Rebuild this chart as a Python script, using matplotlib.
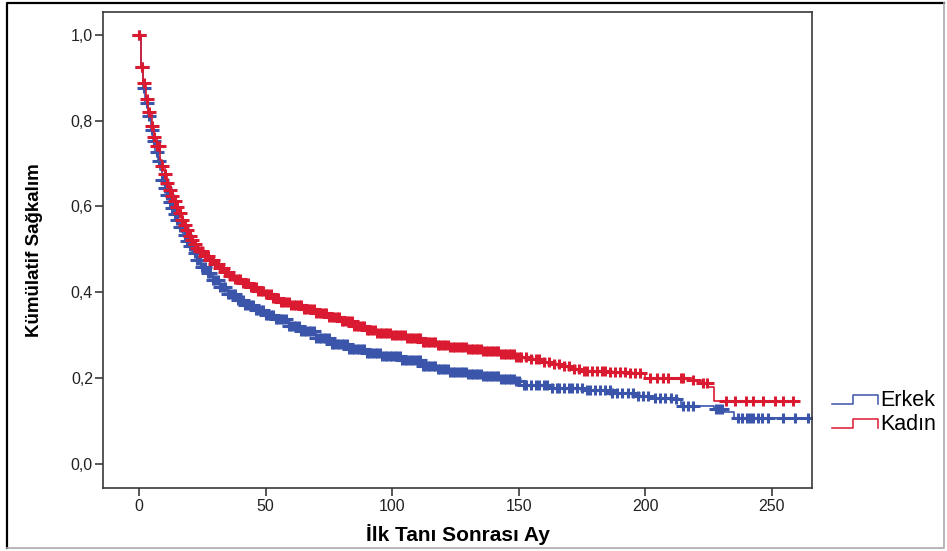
import matplotlib
matplotlib.use('Agg')
import matplotlib.pyplot as plt
import numpy as np
from matplotlib.lines import Line2D
from matplotlib.path import Path
from matplotlib.legend_handler import HandlerBase

plt.rcParams['font.family'] = ['Liberation Sans', 'DejaVu Sans']

# Kaplan-Meier step curves (month, cumulative survival)
erkek_time = [0, 0.7, 1.6, 2.3, 3.3, 4.5, 5.5, 6.3, 7.3, 8.2, 9, 10, 11, 12, 13,
              14, 15, 16, 17.4, 18.7, 20, 21.3, 22.7, 24.6, 26.6, 29, 32, 35,
              38.5, 42, 46, 50, 54, 59, 64, 70, 76, 83, 90, 96, 104, 112, 118,
              123, 130, 136, 143, 149, 152, 163, 177, 187, 196, 204, 211, 214,
              227, 231, 235, 265]
erkek_surv = [1.0, 0.926, 0.876, 0.841, 0.810, 0.779, 0.752, 0.728, 0.705,
              0.684, 0.662, 0.643, 0.627, 0.611, 0.596, 0.582, 0.569, 0.552,
              0.534, 0.520, 0.507, 0.491, 0.476, 0.460, 0.445, 0.429, 0.413,
              0.397, 0.383, 0.371, 0.359, 0.347, 0.337, 0.322, 0.309, 0.293,
              0.280, 0.268, 0.259, 0.251, 0.242, 0.228, 0.221, 0.215, 0.210,
              0.204, 0.198, 0.192, 0.184, 0.176, 0.172, 0.165, 0.157, 0.154,
              0.152, 0.135, 0.127, 0.122, 0.108, 0.108]

kadin_time = [0, 0.7, 1.6, 2.6, 3.6, 4.9, 5.8, 6.9, 8.2, 9, 10, 11, 12, 13, 14,
              15, 16, 17, 18, 19, 20, 21, 22, 23, 24, 26, 28, 30, 32, 34, 36,
              38, 41, 44, 47, 50, 53, 56, 60, 65, 70, 75, 80, 85, 90, 94, 100,
              106, 112, 118, 123, 130, 136, 143, 149, 154, 160, 164, 168, 172,
              176, 186, 194, 200, 219, 222, 225, 227, 260]
kadin_surv = [1.0, 0.926, 0.887, 0.850, 0.819, 0.788, 0.763, 0.740, 0.709,
              0.695, 0.675, 0.654, 0.638, 0.625, 0.612, 0.598, 0.584, 0.568,
              0.556, 0.544, 0.532, 0.522, 0.512, 0.503, 0.495, 0.484, 0.474,
              0.465, 0.457, 0.447, 0.438, 0.430, 0.421, 0.412, 0.403, 0.395,
              0.386, 0.378, 0.370, 0.361, 0.351, 0.342, 0.333, 0.322, 0.312,
              0.305, 0.301, 0.293, 0.285, 0.278, 0.273, 0.268, 0.262, 0.256,
              0.250, 0.244, 0.238, 0.232, 0.227, 0.221, 0.217, 0.215, 0.211,
              0.200, 0.196, 0.188, 0.180, 0.147, 0.147]

# censored cases (month); both groups censored nearly every month up to ~150
dense_censor = [
    0, 1, 2, 3, 4, 5, 6, 7, 8, 9, 10, 11, 12, 13, 14, 15, 16, 17, 18, 19, 20,
    21, 22, 23, 24, 25, 26, 27, 28, 29, 30, 31, 32, 33, 34, 35, 36, 37, 38, 39,
    40, 41, 42, 43, 44, 45, 46, 47, 48, 49, 50, 51, 52, 53, 54, 55, 56, 57, 58,
    59, 60, 61, 62, 63, 64, 65, 66, 67, 68, 69, 70, 71, 72, 73, 74, 75, 76, 77,
    78, 79, 80, 81, 82, 83, 84, 85, 86, 87, 88, 89, 90, 91, 92, 93, 94, 95, 96,
    97, 98, 99, 100, 101, 102, 103, 104, 105, 106, 107, 108, 109, 110, 111,
    112, 113, 114, 115, 116, 117, 118, 119, 120, 121, 122, 123, 124, 125, 126,
    127, 128, 129, 130, 131, 132, 133, 134, 135, 136, 137, 138, 139, 140, 141,
    142, 143, 144, 145, 146, 147, 148, 149, 150]
erkek_censor_tail = [152, 153, 155, 157, 158, 160, 161, 163, 165, 166, 168, 170,
                     171, 173, 175, 177, 178, 180, 182, 184, 186, 187, 189, 191,
                     193, 195, 197, 199, 201, 204, 206, 208, 210, 212, 215, 217,
                     219, 228, 229, 230.5, 236.8, 238.1, 240.1, 241.4, 242.7,
                     244.7, 246, 248.6, 254.5, 259.2, 264.4]
kadin_censor_tail = [151, 153, 155, 157, 158, 160, 162, 164, 166, 168, 170, 172,
                     174, 176, 177, 179, 181, 183, 184, 186, 188, 190, 192, 194,
                     196, 198, 202, 204.5, 207, 209, 214, 215, 219, 223, 224.5,
                     232, 235.5, 240, 242.7, 246.6, 251.3, 254.5, 258.5]

group_labels = ['Erkek', 'Kadın']
group_colors = ['#3B55AA', '#DA1A30']

y_ticks = [0.0, 0.2, 0.4, 0.6, 0.8, 1.0]
x_ticks = [0, 50, 100, 150, 200, 250]

# wide "+" like the SPSS censor mark
plus_mark = Path([(-1.3, 0), (1.3, 0), (0, -1), (0, 1)],
                 [Path.MOVETO, Path.LINETO, Path.MOVETO, Path.LINETO])


class StepHandler(HandlerBase):
    """Legend key drawn as a small step, as in SPSS survival plots."""

    def create_artists(self, legend, orig_handle, xdescent, ydescent,
                       width, height, fontsize, trans):
        xs = np.array([0, 0.45, 0.45, 1.0, 1.0]) * width - xdescent
        ys = np.array([0.15, 0.15, 0.75, 0.75, 0.15]) * height - ydescent
        line = Line2D(xs, ys, color=orig_handle.get_color(), lw=1.1)
        line.set_transform(trans)
        return [line]


def censor_levels(times, surv, censor):
    times = np.asarray(times)
    surv = np.asarray(surv)
    idx = np.searchsorted(times, censor, side='right') - 1
    return surv[idx]


fig = plt.figure(figsize=(9.47, 5.51), dpi=100)
ax = fig.add_axes([0.1091, 0.1138, 0.7480, 0.8650])

curves = [
    (erkek_time, erkek_surv, dense_censor + erkek_censor_tail),
    (kadin_time, kadin_surv, dense_censor + kadin_censor_tail),
]
handles = []
for (t, s, cens), label, color in zip(curves, group_labels, group_colors):
    ax.step(t, s, where='post', color=color, lw=1.2)
    ax.plot(cens, censor_levels(t, s, cens), linestyle='none', marker=plus_mark,
            markersize=10, markeredgewidth=2.2, color=color)
    handles.append(Line2D([], [], color=color, label=label))

ax.set_xlim(-14.2, 265.8)
ax.set_ylim(-0.057, 1.054)
ax.set_xticks(x_ticks)
ax.set_yticks(y_ticks)
ax.set_yticklabels([f'{v:.1f}'.replace('.', ',') for v in y_ticks])

for side in ['left', 'right', 'top', 'bottom']:
    ax.spines[side].set_color('#3a3a3a')
    ax.spines[side].set_linewidth(1.2)
ax.tick_params(direction='out', length=5.5, width=1.2, color='#3a3a3a',
               labelsize=11.5, labelcolor='#222222', pad=2)

ax.set_xlabel('İlk Tanı Sonrası Ay', fontsize=15, fontweight='bold')
ax.xaxis.set_label_coords(0.5, -0.075)
ax.set_ylabel('Kümülatif Sağkalım', fontsize=13.5, fontweight='bold')
ax.yaxis.set_label_coords(-0.085, 0.5)

fig.legend(handles=handles, handler_map={Line2D: StepHandler()},
           loc='upper left', bbox_to_anchor=(0.879, 0.292),
           frameon=False, fontsize=15.5, handlelength=2.1, handletextpad=0.12,
           labelspacing=0.15, borderpad=0, borderaxespad=0)

# outer frame around the whole picture
fig.add_artist(Line2D([0.0074, 0.0074, 0.9968], [0.0054, 0.9946, 0.9946],
                      transform=fig.transFigure, color='black', lw=1.6))
fig.add_artist(Line2D([0.0074, 0.9968, 0.9968], [0.0054, 0.0054, 0.9946],
                      transform=fig.transFigure, color='#aaaaaa', lw=1.2))

fig.savefig('out.png', dpi=100)
